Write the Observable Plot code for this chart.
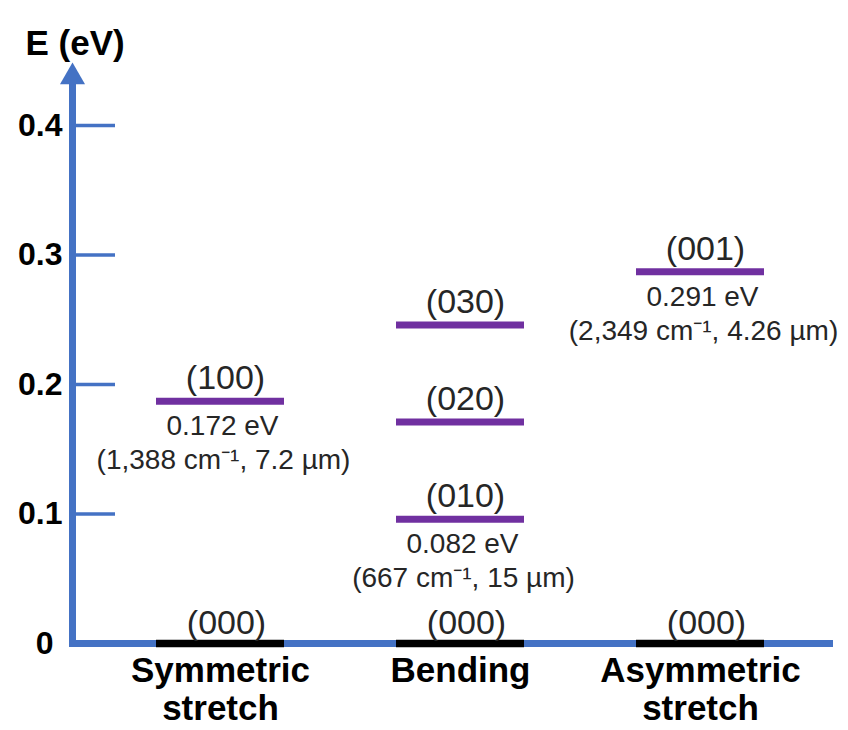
<!DOCTYPE html>
<html><head><meta charset="utf-8">
<script src="https://cdn.jsdelivr.net/npm/d3@7"></script>
<script src="https://cdn.jsdelivr.net/npm/@observablehq/plot@0.6"></script>
<style>html,body{margin:0;padding:0;background:#fff} #chart svg{display:block}</style>
</head><body><div id="chart"></div>
<script>
// ---- data ----
const modes = ["Symmetric stretch", "Bending", "Asymmetric stretch"];
const groundLabel = "(000)";
const groundEnergy = 0;
const levelMode = ["Symmetric stretch", "Bending", "Bending", "Bending", "Asymmetric stretch"];
const levelName = ["(100)", "(010)", "(020)", "(030)", "(001)"];
const levelEnergy = [0.187, 0.096, 0.171, 0.246, 0.287];
const levelEV = ["0.172 eV", "0.082 eV", "", "", "0.291 eV"];
const levelWave = ["(1,388 cm⁻¹, 7.2 µm)", "(667 cm⁻¹, 15 µm)", "", "", "(2,349 cm⁻¹, 4.26 µm)"];
const yTicks = [0, 0.1, 0.2, 0.3, 0.4];
const yTitle = "E (eV)";

// ---- tables built from the arrays ----
const ground = modes.map(m => ({mode: m, energy: groundEnergy, name: groundLabel}));
const levels = levelMode.map((m, i) => ({mode: m, energy: levelEnergy[i], name: levelName[i], ev: levelEV[i], wave: levelWave[i]}));
const annotated = levels.filter(d => d.ev);

const blue = "#4472C4";
const purple = "#7030A0";
const textGray = "#262626";

const chart = Plot.plot({
  width: 848,
  height: 730,
  marginTop: 62,
  marginBottom: 87,
  marginLeft: 72,
  marginRight: 15,
  style: {fontFamily: "'Liberation Sans', Arial, sans-serif", fontSize: "32px", fontWeight: "bold", color: "#000", background: "#fff", overflow: "visible"},
  x: {domain: modes, paddingInner: 0.468, paddingOuter: 0.316, align: 0.546, axis: null},
  y: {domain: [0, 0.4486], ticks: yTicks, tickSize: 0, tickPadding: 10,
      tickFormat: d => d === 0 ? "0\u00a0" : d.toFixed(1), label: null},
  marks: [
    Plot.ruleY(yTicks.filter(d => d > 0), {stroke: blue, strokeWidth: 3.5, insetLeft: 4, insetRight: 718}),
    Plot.frame({anchor: "left", stroke: blue, strokeWidth: 7, insetTop: 12, strokeLinecap: "square"}),
    Plot.ruleY([0], {stroke: blue, strokeWidth: 7}),
    Plot.dot([0], {frameAnchor: "top-left", symbol: "triangle", r: 9.3, fill: blue, stroke: null, dy: 14.4}),
    Plot.tickY(ground, {x: "mode", y: "energy", stroke: "#000", strokeWidth: 7.5}),
    Plot.tickY(levels, {x: "mode", y: "energy", stroke: purple, strokeWidth: 7}),
    Plot.text(ground, {x: "mode", y: "energy", text: "name", dy: -20, dx: 6, fontSize: 34, fontWeight: "normal", fill: textGray}),
    Plot.text(levels, {x: "mode", y: "energy", text: "name", dy: -23, dx: 5, fontSize: 34, fontWeight: "normal", fill: textGray}),
    Plot.text(annotated, {x: "mode", y: "energy", text: "ev", dy: 25, dx: 2, fontSize: 28, fontWeight: "normal", fill: textGray}),
    Plot.text(annotated, {x: "mode", y: "energy", text: "wave", dy: 59, dx: 3, fontSize: 28, fontWeight: "normal", fill: textGray}),
    Plot.text(modes, {x: d => d, y: () => 0, text: d => d.replace(" ", "\n"), lineAnchor: "top", lineHeight: 1.1, dy: 11, fontSize: 35, fontWeight: "bold", fill: "#000"}),
    Plot.text([yTitle], {frameAnchor: "top-left", dx: -47, dy: -32, textAnchor: "start", fontSize: 35, fontWeight: "bold", fill: "#000"})
  ]
});
document.getElementById("chart").appendChild(chart);
</script>
</body></html>
